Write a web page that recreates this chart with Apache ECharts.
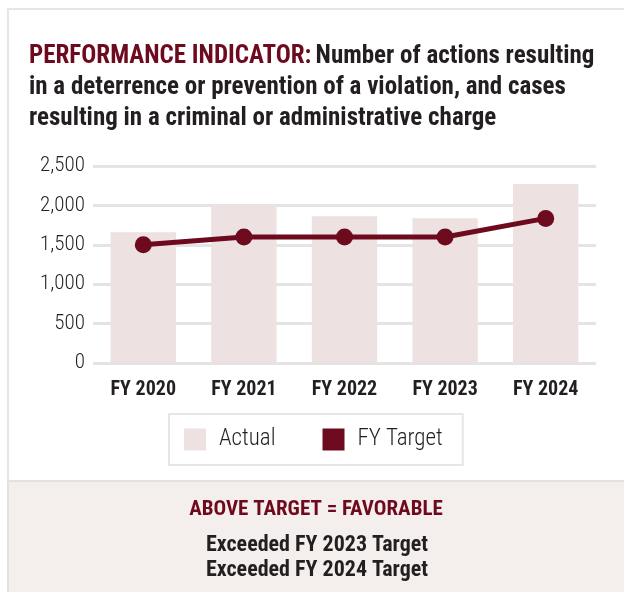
<!DOCTYPE html>
<html>
<head>
<meta charset="utf-8">
<script src="https://cdn.jsdelivr.net/npm/echarts@6/dist/echarts.min.js"></script>
<style>
  html, body { margin: 0; padding: 0; background: #ffffff; }
  #chart { width: 624px; height: 592px; }
</style>
</head>
<body>
<div id="chart"></div>
<script>
  // data
  var years = ['FY 2020', 'FY 2021', 'FY 2022', 'FY 2023', 'FY 2024']
  var actual = [1660, 2015, 1862, 1837, 2270]
  var target = [1500, 1600, 1600, 1600, 1835]
  var yTicks = [0, 500, 1000, 1500, 2000, 2500]

  var maroon = '#6e0a1e'
  var barColor = '#ede2e1'
  var ink = '#231f20'
  var font = '"Roboto Condensed", "DejaVu Sans Condensed", sans-serif'

  var chart = echarts.init(document.getElementById('chart'), null, { renderer: 'canvas' })

  var option = {
    animation: false,
    backgroundColor: '#ffffff',
    textStyle: { fontFamily: font },
    title: {
      left: 24,
      top: 36,
      text: '{a|PERFORMANCE INDICATOR:} {b|Number of actions resulting}\n{b|in a deterrence or prevention of a violation, and cases}\n{b|resulting in a criminal or administrative charge}',
      textStyle: {
        rich: {
          a: { color: maroon, fontSize: 25, fontWeight: 'bold', fontFamily: font, lineHeight: 31 },
          b: { color: ink, fontSize: 25, fontWeight: 'bold', fontFamily: font, lineHeight: 31 }
        }
      }
    },
    legend: {
      left: 169,
      top: 414,
      padding: [14, 20, 14, 15],
      borderColor: '#e6e6e6',
      borderWidth: 2,
      itemWidth: 22,
      itemHeight: 22,
      itemGap: 47,
      icon: 'rect',
      textStyle: { fontSize: 23, fontWeight: 300, color: ink, fontFamily: font, padding: [0, 0, 0, 8] },
      data: ['Actual', 'FY Target']
    },
    grid: {
      left: 93,
      right: 28,
      top: 166,
      bottom: 229,
      containLabel: false
    },
    xAxis: {
      type: 'category',
      data: years,
      axisLine: { show: false },
      axisTick: { show: false },
      axisLabel: { fontSize: 20, fontWeight: 'bold', color: ink, margin: 17, interval: 0, fontFamily: font }
    },
    yAxis: {
      type: 'value',
      min: yTicks[0],
      max: yTicks[yTicks.length - 1],
      interval: 500,
      axisLabel: {
        fontSize: 21,
        fontWeight: 300,
        color: ink,
        margin: 8,
        fontFamily: font,
        formatter: function (v) { return v.toLocaleString('en-US') }
      },
      splitLine: { lineStyle: { color: '#e4e4e4', width: 3 } }
    },
    series: [
      {
        name: 'Actual',
        type: 'bar',
        data: actual,
        barWidth: '65%',
        itemStyle: { color: barColor }
      },
      {
        name: 'FY Target',
        type: 'line',
        data: target,
        symbol: 'circle',
        symbolSize: 17,
        lineStyle: { color: maroon, width: 5 },
        itemStyle: { color: maroon }
      }
    ],
    graphic: [
      {
        type: 'rect',
        z: -10,
        shape: { x: 8, y: 9, width: 640, height: 600 },
        style: { fill: 'none', stroke: '#e6e6e6', lineWidth: 2 }
      },
      {
        type: 'rect',
        z: -5,
        shape: { x: 8, y: 481, width: 640, height: 120 },
        style: { fill: '#f4efed', stroke: '#e2e2e2', lineWidth: 2 }
      },
      {
        type: 'text',
        x: 316,
        y: 510,
        style: {
          text: 'ABOVE TARGET = FAVORABLE',
          fill: maroon,
          font: 'bold 21px ' + font,
          textAlign: 'center',
          textVerticalAlign: 'middle'
        }
      },
      {
        type: 'text',
        x: 317,
        y: 558,
        style: {
          text: 'Exceeded FY 2023 Target\nExceeded FY 2024 Target',
          fill: ink,
          font: 'bold 22px ' + font,
          lineHeight: 25,
          textAlign: 'center',
          textVerticalAlign: 'middle'
        }
      }
    ]
  }

  chart.setOption(option)
</script>
</body>
</html>
